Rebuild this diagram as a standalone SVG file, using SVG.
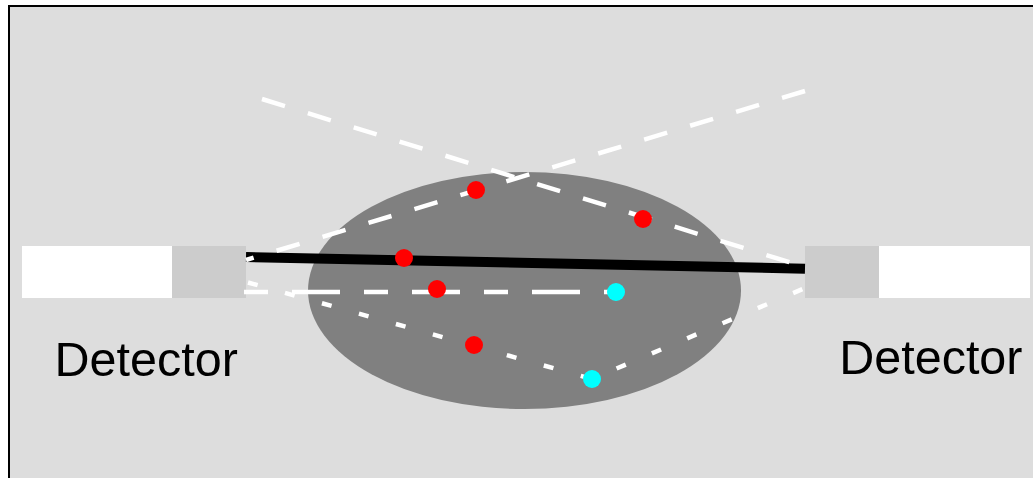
<svg xmlns="http://www.w3.org/2000/svg" width="1033" height="478" viewBox="0 0 1033 478">
<style>
.lbl{font-family:"Liberation Sans",Arial,sans-serif;font-size:48.5px;fill:#000}
.dash{fill:none;stroke:#fff;stroke-width:4.5;stroke-dasharray:24 24}
.dashdot{fill:none;stroke:#fff;stroke-width:4.5;stroke-dasharray:24 24 48 24}
.dot{fill:none;stroke:#fff;stroke-width:4.5;stroke-dasharray:10 28.4}
.red{fill:#f00}
.cyan{fill:#0ff}
</style>
<rect x="9" y="6" width="1040" height="490" fill="#ddd" stroke="#000" stroke-width="2"/>
<g id="body"><ellipse cx="524.5" cy="290.5" rx="216.5" ry="118.5" fill="#808080"/></g>
<g id="detector-left">
<rect x="22" y="246" width="150" height="52" fill="#fff"/>
<rect x="172" y="246" width="74" height="52" fill="#ccc"/>
<text class="lbl" x="54.5" y="376">Detector</text>
</g>
<g id="detector-right">
<rect x="805" y="246" width="74" height="52" fill="#ccc"/>
<rect x="879" y="246" width="151" height="52" fill="#fff"/>
<text class="lbl" x="839.2" y="374">Detector</text>
</g>
<g id="connectors">
<line x1="246" y1="257" x2="805" y2="268.7" stroke="#000" stroke-width="10"/>
<line class="dash" x1="262" y1="99" x2="805" y2="267"/>
<line class="dash" x1="805" y1="91" x2="246" y2="260"/>
<line class="dashdot" x1="244" y1="292" x2="616" y2="292"/>
<polyline class="dot" points="248,282.5 592,379 805,288"/>
</g>
<g id="points">
<circle class="red" cx="404" cy="258" r="9"/>
<circle class="red" cx="437" cy="289" r="9"/>
<circle class="red" cx="476" cy="190" r="9"/>
<circle class="red" cx="643" cy="219" r="9"/>
<circle class="red" cx="474" cy="345" r="9"/>
<circle class="cyan" cx="616" cy="292" r="9"/>
<circle class="cyan" cx="592" cy="379" r="9"/>
</g>
</svg>
